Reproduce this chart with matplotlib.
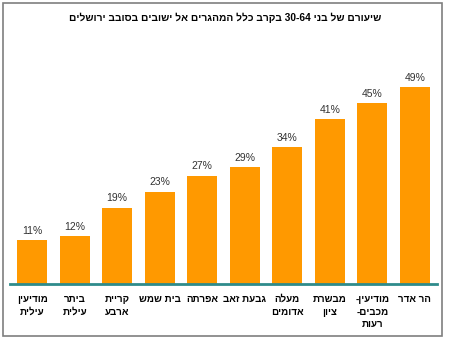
import matplotlib
matplotlib.use("Agg")
import matplotlib.pyplot as plt
from matplotlib.patches import Rectangle

title = "שיעורם של בני 30-64 בקרב כלל המהגרים אל ישובים בסובב ירושלים"
towns = ["מודיעין\nעילית", "ביתר\nעילית", "קריית\nארבע", "בית שמש", "אפרתה",
         "גבעת זאב", "מעלה\nאדומים", "מבשרת\nציון", "מודיעין-\nמכבים-\nרעות", "הר אדר"]
shares = [11, 12, 19, 23, 27, 29, 34, 41, 45, 49]


def is_heb(tok):
    return any("\u0590" <= ch <= "\u05ff" for ch in tok)


def visual(text):
    # matplotlib has no bidi support, so flip Hebrew into display order by hand
    out = []
    for line in text.split("\n"):
        words = line.split(" ")[::-1]
        out.append(" ".join(w[::-1] if is_heb(w) else w for w in words))
    return "\n".join(out)


plt.rcParams['font.family'] = ['Liberation Sans', 'DejaVu Sans']

fig = plt.figure(figsize=(4.5, 3.42), dpi=100)
ax = fig.add_axes([10 / 450, 58 / 342, 427 / 450, 221 / 342])

x = range(len(shares))
bars = ax.bar(x, shares, width=0.71, color="#FF9900", zorder=2)
for b, v in zip(bars, shares):
    ax.annotate(f"{v}%", (b.get_x() + b.get_width() / 2, v), xytext=(0, 3),
                textcoords="offset points", ha="center", va="bottom",
                fontsize=7.5, color="#333333")

ax.set_xlim(-0.52, len(shares) - 0.48)
ax.set_ylim(0, 55)
ax.set_xticks(list(x))
ax.set_xticklabels([visual(t) for t in towns], fontsize=7, fontweight="bold",
                   linespacing=1.35, va="top")
ax.tick_params(axis="x", length=0, pad=7)
ax.set_yticks([])
for s in ["top", "right", "left"]:
    ax.spines[s].set_visible(False)
ax.spines["bottom"].set_color("#2E8B8B")
ax.spines["bottom"].set_linewidth(2)

fig.text(0.5, 1 - 18 / 342, visual(title), ha="center", va="center",
         fontsize=7.3, fontweight="bold")

fig.patches.append(Rectangle((3 / 450, 6 / 342), 439 / 450, 333 / 342,
                             transform=fig.transFigure, fill=False,
                             edgecolor="#7F7F7F", linewidth=1.2))

fig.savefig("out.png", dpi=100)
